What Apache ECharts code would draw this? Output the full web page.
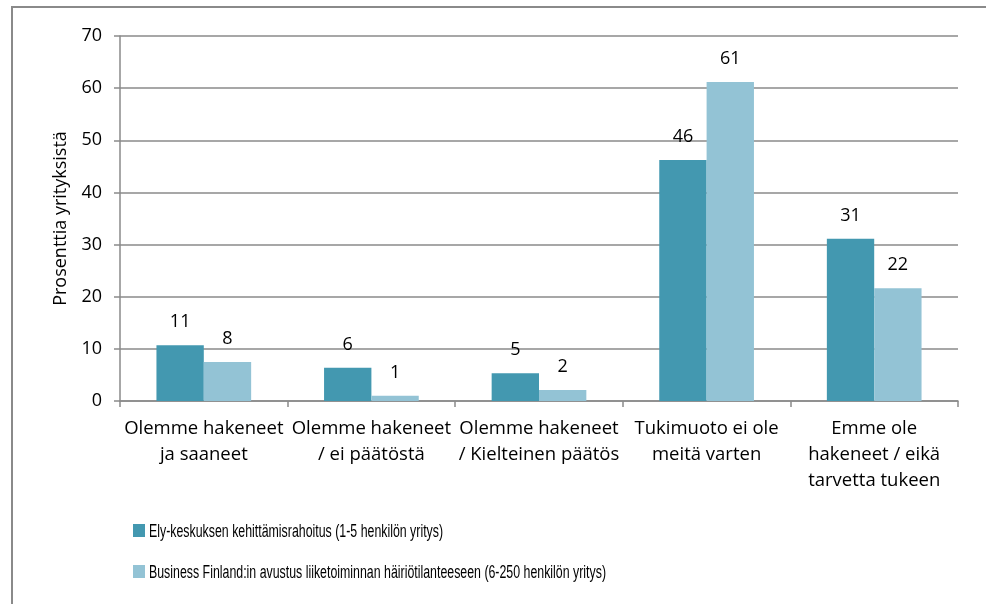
<!DOCTYPE html>
<html>
<head>
<meta charset="utf-8">
<script src="https://cdn.jsdelivr.net/npm/echarts@6/dist/echarts.min.js"></script>
<style>html,body{margin:0;padding:0;background:#fff}#c{width:986px;height:604px}</style>
</head>
<body>
<div id="c"></div>
<script>
var categories = [
  "Olemme hakeneet\nja saaneet",
  "Olemme hakeneet\n/ ei päätöstä",
  "Olemme hakeneet\n/ Kielteinen päätös",
  "Tukimuoto ei ole\nmeitä varten",
  "Emme ole\nhakeneet / eikä\ntarvetta tukeen"
];
var seriesNames = [
  "Ely-keskuksen kehittämisrahoitus (1-5 henkilön yritys)",
  "Business Finland:in avustus liiketoiminnan häiriötilanteeseen (6-250 henkilön yritys)"
];
var seriesColors = ['#4398b0', '#93c3d5'];
var elyValues = [10.7, 6.4, 5.3, 46.2, 31.1];
var bfValues = [7.5, 1.0, 2.1, 61.2, 21.6];
var yTicks = { min: 0, max: 70, interval: 10 };
var yAxisTitle = "Prosenttia yrityksistä";

var FONT = "Open Sans";
var LEGEND_FONT = "Liberation Sans";
var LEGEND_SIZE = 18;

// condensed legend text (reference legend is horizontally compressed)
var mctx = document.createElement('canvas').getContext('2d');
mctx.font = LEGEND_SIZE + 'px "' + LEGEND_FONT + '"';
var legendScale = 457 / mctx.measureText(seriesNames[1]).width;

var chart = echarts.init(document.getElementById('c'), null, { renderer: 'canvas' });
function labelCfg() {
  return {
    show: true, position: 'top', distance: 14,
    color: '#000', fontFamily: FONT, fontSize: 18, lineHeight: 18,
    formatter: function (p) { return Math.round(p.value); }
  };
}
var graphics = [{
  type: 'rect', silent: true, z: 100,
  shape: { x: 12, y: 7, width: 1000, height: 1000 },
  style: { fill: 'none', stroke: '#8a8a8a', lineWidth: 2 }
}];
var legendRows = [531, 572];
seriesNames.forEach(function (n, i) {
  graphics.push({
    type: 'rect', silent: true,
    shape: { x: 133, y: legendRows[i] - 7, width: 12, height: 13 },
    style: { fill: seriesColors[i] }
  });
  graphics.push({
    type: 'text', silent: true, x: 149, y: legendRows[i] + 1, scaleX: legendScale,
    style: { text: n, fontFamily: LEGEND_FONT, fontSize: LEGEND_SIZE, fill: '#000', verticalAlign: 'middle', align: 'left' }
  });
});

chart.setOption({
  backgroundColor: '#fff',
  animation: false,
  graphic: graphics,
  grid: { left: 120, right: 28, top: 36, bottom: 203 },
  legend: { show: false, data: seriesNames },
  xAxis: {
    type: 'category', data: categories,
    axisLine: { lineStyle: { color: '#8a8a8a', width: 1.5 } },
    axisTick: { show: true, length: 6, lineStyle: { color: '#8a8a8a', width: 1.5 } },
    axisLabel: { interval: 0, margin: 15, color: '#000', fontFamily: FONT, fontSize: 18.5, lineHeight: 26 }
  },
  yAxis: {
    type: 'value', min: yTicks.min, max: yTicks.max, interval: yTicks.interval,
    name: yAxisTitle, nameLocation: 'middle', nameGap: 50, nameRotate: 90,
    nameTextStyle: { color: '#000', fontFamily: FONT, fontSize: 18 },
    axisLine: { show: true, lineStyle: { color: '#8a8a8a', width: 1.5 } },
    axisTick: { show: true, length: 6, lineStyle: { color: '#8a8a8a', width: 1.5 } },
    axisLabel: { margin: 18, color: '#000', fontFamily: FONT, fontSize: 18 },
    splitLine: { show: true, lineStyle: { color: '#8a8a8a', width: 1.5 } }
  },
  series: [
    { name: seriesNames[0], type: 'bar', data: elyValues, barGap: '0%', barCategoryGap: '43.5%',
      itemStyle: { color: seriesColors[0] }, label: labelCfg() },
    { name: seriesNames[1], type: 'bar', data: bfValues, barGap: '0%', barCategoryGap: '43.5%',
      itemStyle: { color: seriesColors[1] }, label: labelCfg() }
  ]
});
</script>
</body>
</html>
